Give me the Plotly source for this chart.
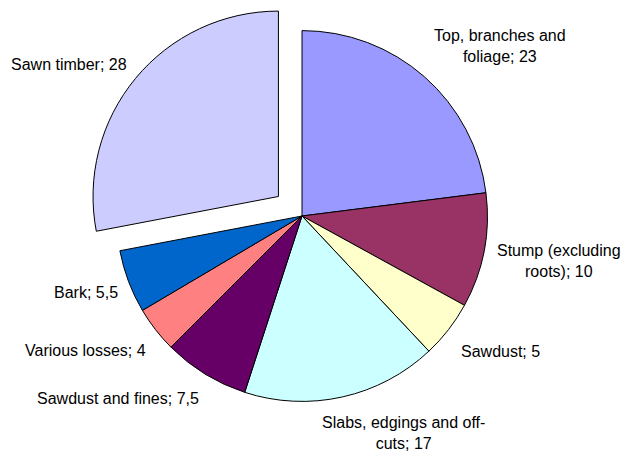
import plotly.graph_objects as go

categories = ["Top, branches and foliage", "Stump (excluding roots)", "Sawdust",
              "Slabs, edgings and off-cuts", "Sawdust and fines", "Various losses",
              "Bark", "Sawn timber"]
values = [23, 10, 5, 17, 7.5, 4, 5.5, 28]
value_labels = ["23", "10", "5", "17", "7,5", "4", "5,5", "28"]
label_text = ["Top, branches and<br>foliage; 23", "Stump (excluding<br>roots); 10", "Sawdust; 5",
              "Slabs, edgings and off-<br>cuts; 17", "Sawdust and fines; 7,5", "Various losses; 4",
              "Bark; 5,5", "Sawn timber; 28"]
colors = ["#9999FF", "#993366", "#FFFFCC", "#CCFFFF", "#660066", "#FF8080", "#0066CC", "#CCCCFF"]
pulls = [0, 0, 0, 0, 0, 0, 0, 0.165]

W, H = 623, 453
# label centres in pixels (x, y from top)
label_pos = [(500, 46), (559, 261), (500, 351), (403, 433), (118, 398), (85, 350), (86, 292), (69, 64)]

fig = go.Figure(go.Pie(
    labels=categories, values=values, sort=False, direction="clockwise", rotation=0,
    marker=dict(colors=colors, line=dict(color="black", width=1)),
    pull=pulls, textinfo="none", showlegend=False,
    domain=dict(x=[(302 - 216) / W, (302 + 216) / W], y=[(H - 216 - 216) / H, 1.0]),
))

for txt, (px, py) in zip(label_text, label_pos):
    fig.add_annotation(text=txt, x=px / W, y=1 - py / H, xref="paper", yref="paper",
                       xanchor="center", yanchor="middle", showarrow=False, align="center",
                       font=dict(family="Liberation Sans, Arial", size=16, color="black"))

fig.update_layout(width=W, height=H, margin=dict(l=0, r=0, t=0, b=0),
                  paper_bgcolor="white", plot_bgcolor="white")
fig.write_html("out.html", config={"displayModeBar": False},
               post_script="document.body.style.margin='0';")
